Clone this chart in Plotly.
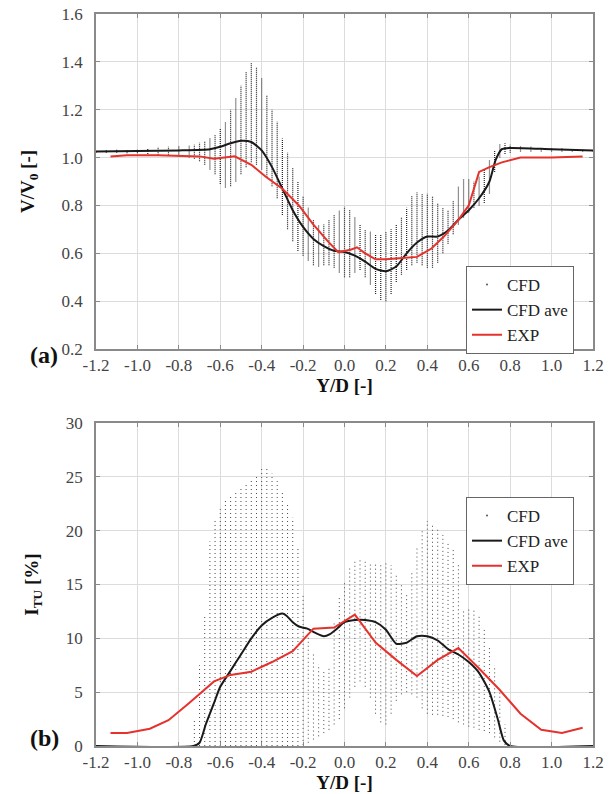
import plotly.graph_objects as go
from plotly.subplots import make_subplots

# ---------------- Panel (a): V/V0 ----------------
a_col_x = [-1.20, -1.15, -1.10, -1.05, -1.00, -0.95, -0.90, -0.85, -0.80, -0.75,
           -0.725, -0.700, -0.675, -0.650, -0.625, -0.600, -0.575, -0.550, -0.525, -0.500,
           -0.475, -0.450, -0.425, -0.400, -0.375, -0.350, -0.325, -0.300, -0.275, -0.250,
           -0.225, -0.200, -0.175, -0.150, -0.125, -0.100, -0.075, -0.050, -0.025, 0.000,
           0.025, 0.050, 0.075, 0.100, 0.125, 0.150, 0.175, 0.200, 0.225, 0.250,
           0.275, 0.300, 0.325, 0.350, 0.375, 0.400, 0.425, 0.450, 0.475, 0.500,
           0.525, 0.550, 0.575, 0.600, 0.625, 0.650, 0.675, 0.700, 0.725, 0.750,
           0.775, 0.800, 0.85, 0.90, 0.95, 1.00, 1.05, 1.10, 1.15, 1.20]
a_col_lo = [1.020, 1.020, 1.020, 1.018, 1.018, 1.015, 1.012, 1.010, 1.005, 1.000,
            0.995, 0.985, 0.970, 0.950, 0.930, 0.890, 0.875, 0.880, 0.900, 0.930,
            0.960, 0.980, 0.970, 0.950, 0.920, 0.880, 0.830, 0.760, 0.700, 0.650,
            0.610, 0.590, 0.570, 0.550, 0.545, 0.550, 0.550, 0.540, 0.520, 0.500,
            0.500, 0.520, 0.530, 0.500, 0.470, 0.430, 0.405, 0.400, 0.430, 0.480,
            0.510, 0.530, 0.550, 0.560, 0.550, 0.540, 0.540, 0.560, 0.600, 0.640,
            0.680, 0.720, 0.750, 0.770, 0.790, 0.800, 0.810, 0.850, 0.940, 1.000,
            1.015, 1.020, 1.025, 1.025, 1.025, 1.025, 1.025, 1.025, 1.025, 1.025]
a_col_hi = [1.030, 1.032, 1.033, 1.035, 1.036, 1.040, 1.042, 1.045, 1.048, 1.052,
            1.055, 1.062, 1.070, 1.080, 1.095, 1.120, 1.150, 1.200, 1.250, 1.300,
            1.360, 1.395, 1.380, 1.330, 1.260, 1.200, 1.150, 1.080, 1.020, 0.960,
            0.900, 0.840, 0.790, 0.740, 0.720, 0.720, 0.740, 0.760, 0.780, 0.795,
            0.780, 0.750, 0.720, 0.700, 0.690, 0.680, 0.680, 0.690, 0.700, 0.720,
            0.750, 0.790, 0.840, 0.855, 0.850, 0.850, 0.840, 0.810, 0.790, 0.780,
            0.820, 0.880, 0.910, 0.910, 0.900, 0.920, 0.950, 0.990, 1.030, 1.055,
            1.060, 1.055, 1.048, 1.045, 1.042, 1.040, 1.038, 1.036, 1.035, 1.033]

a_ave_x = [-1.20, -0.80, -0.65, -0.60, -0.55, -0.50, -0.45, -0.40, -0.35, -0.30,
           -0.25, -0.20, -0.15, -0.10, -0.05, 0.00, 0.05, 0.10, 0.15, 0.20,
           0.25, 0.30, 0.35, 0.40, 0.45, 0.50, 0.55, 0.60, 0.65, 0.70,
           0.73, 0.76, 0.80, 1.00, 1.20]
a_ave_y = [1.025, 1.030, 1.035, 1.045, 1.060, 1.070, 1.065, 1.030, 0.960, 0.870,
           0.780, 0.710, 0.660, 0.630, 0.610, 0.605, 0.590, 0.565, 0.535, 0.525,
           0.545, 0.600, 0.645, 0.670, 0.670, 0.695, 0.740, 0.780, 0.830, 0.900,
           0.990, 1.035, 1.040, 1.035, 1.030]

a_exp_x = [-1.13, -1.05, -0.90, -0.70, -0.63, -0.58, -0.53, -0.45, -0.38, -0.30,
           -0.22, -0.15, -0.08, -0.03, 0.00, 0.03, 0.06, 0.10, 0.15, 0.20,
           0.28, 0.35, 0.42, 0.48, 0.55, 0.60, 0.65, 0.70, 0.76, 0.85,
           1.00, 1.15]
a_exp_y = [1.005, 1.010, 1.010, 1.005, 0.995, 1.000, 1.005, 0.970, 0.920, 0.870,
           0.800, 0.720, 0.650, 0.605, 0.610, 0.615, 0.625, 0.600, 0.575, 0.575,
           0.580, 0.585, 0.620, 0.670, 0.740, 0.800, 0.940, 0.960, 0.980, 1.000,
           1.000, 1.005]

# ---------------- Panel (b): I_TU ----------------
b_col_x = [-0.725, -0.700, -0.675, -0.650, -0.625, -0.600, -0.575, -0.550, -0.525, -0.500,
           -0.475, -0.450, -0.425, -0.400, -0.375, -0.350, -0.325, -0.300, -0.275, -0.250,
           -0.225, -0.200, -0.175, -0.150, -0.125, -0.100, -0.075, -0.050, -0.025, 0.000,
           0.025, 0.050, 0.075, 0.100, 0.125, 0.150, 0.175, 0.200, 0.225, 0.250,
           0.275, 0.300, 0.325, 0.350, 0.375, 0.400, 0.425, 0.450, 0.475, 0.500,
           0.525, 0.550, 0.575, 0.600, 0.625, 0.650, 0.675, 0.700, 0.725, 0.750,
           0.775]
b_col_lo = [0.0, 0.0, 0.0, 0.0, 0.0, 0.0, 0.0, 0.0, 0.0, 0.0,
            0.0, 0.0, 0.0, 0.0, 0.0, 0.0, 0.0, 0.0, 0.0, 0.0,
            0.0, 0.1, 0.3, 0.6, 0.9, 1.2, 1.5, 2.0, 2.5, 3.5,
            4.5, 5.5, 6.0, 5.5, 4.5, 3.0, 2.2, 2.0, 3.0, 4.2,
            4.8, 5.0, 4.8, 4.5, 3.5, 3.0, 2.9, 2.9, 2.8, 2.7,
            2.5, 2.2, 2.0, 1.8, 1.7, 1.5, 1.4, 1.2, 0.8, 0.4,
            0.1]
b_col_hi = [2.5, 7.5, 12.0, 19.0, 21.0, 22.0, 22.8, 23.3, 23.7, 24.1,
            24.4, 24.7, 25.1, 25.8, 25.9, 25.3, 24.6, 23.7, 22.5, 21.2,
            18.5, 14.2, 10.5, 8.7, 7.6, 7.0, 7.2, 11.5, 13.8, 15.2,
            16.5, 17.2, 17.4, 17.3, 17.1, 16.9, 16.9, 17.0, 16.8, 16.0,
            15.0, 14.2, 16.2, 18.6, 20.2, 20.9, 20.6, 20.1, 19.6, 19.0,
            18.2, 17.0, 12.5, 12.7, 12.7, 12.0, 10.8, 9.3, 7.5, 5.0,
            2.0]

b_ave_x = [-1.20, -0.73, -0.70, -0.67, -0.63, -0.60, -0.55, -0.50, -0.45, -0.40,
           -0.35, -0.30, -0.28, -0.25, -0.22, -0.18, -0.14, -0.10, -0.07, -0.03,
           0.00, 0.05, 0.10, 0.15, 0.20, 0.25, 0.30, 0.35, 0.40, 0.45,
           0.50, 0.55, 0.60, 0.65, 0.70, 0.74, 0.77, 0.80, 1.20]
b_ave_y = [0.0, 0.0, 0.3, 2.0, 4.0, 5.5, 7.0, 8.5, 10.0, 11.2,
           11.9, 12.3, 12.1, 11.5, 11.1, 10.9, 10.5, 10.2, 10.4, 11.0,
           11.5, 11.7, 11.7, 11.5, 10.8, 9.5, 9.6, 10.2, 10.2, 9.8,
           9.0, 8.5, 7.8, 6.8, 5.0, 2.5, 0.5, 0.0, 0.0]

b_exp_x = [-1.13, -1.05, -0.94, -0.85, -0.75, -0.63, -0.55, -0.45, -0.35, -0.25,
           -0.15, -0.05, 0.05, 0.15, 0.25, 0.35, 0.45, 0.55, 0.65, 0.75,
           0.85, 0.95, 1.05, 1.15]
b_exp_y = [1.2, 1.2, 1.6, 2.4, 4.0, 6.0, 6.6, 6.9, 7.8, 8.8,
           10.9, 11.0, 12.2, 9.6, 8.0, 6.5, 8.0, 9.1, 7.2, 5.2,
           3.0, 1.5, 1.2, 1.7]

x_ticks = [-1.2, -1.0, -0.8, -0.6, -0.4, -0.2, 0.0, 0.2, 0.4, 0.6, 0.8, 1.0, 1.2]
x_ticktext = ["-1.2", "-1.0", "-0.8", "-0.6", "-0.4", "-0.2", "0.0", "0.2", "0.4", "0.6", "0.8", "1.0", "1.2"]
a_yticks = [0.2, 0.4, 0.6, 0.8, 1.0, 1.2, 1.4, 1.6]
a_yticktext = ["0.2", "0.4", "0.6", "0.8", "1.0", "1.2", "1.4", "1.6"]
b_yticks = [0, 5, 10, 15, 20, 25, 30]
b_yticktext = ["0", "5", "10", "15", "20", "25", "30"]


def segments(xs, lo, hi):
    sx, sy = [], []
    for x, l, h in zip(xs, lo, hi):
        sx += [x, x, None]
        sy += [l, h, None]
    return sx, sy


FONT = "Liberation Serif"
RED = "#e5322d"
BLACK = "#1a1a1a"

H = 794
top_px, bot_px = 14, 746
span = bot_px - top_px
left_px, right_px = 96, 593


def py(pix):
    return (bot_px - pix) / span


def px(pix):
    return (pix - left_px) / (right_px - left_px)


fig = make_subplots(rows=2, cols=1, vertical_spacing=0.0)
fig.update_layout(
    yaxis=dict(domain=[py(349), py(14)]),
    yaxis2=dict(domain=[py(746), py(423)]),
)

# Panel a traces
sx, sy = segments(a_col_x, a_col_lo, a_col_hi)
fig.add_trace(go.Scatter(x=sx, y=sy, mode="lines", line=dict(color="#222222", width=1.2, dash="1px,1px"),
                         showlegend=False, hoverinfo="skip"), row=1, col=1)
fig.add_trace(go.Scatter(x=[None], y=[None], mode="markers", name="CFD",
                         marker=dict(color="#555", size=2), legend="legend"), row=1, col=1)
fig.add_trace(go.Scatter(x=a_ave_x, y=a_ave_y, mode="lines", name="CFD ave",
                         line=dict(color=BLACK, width=2, shape="spline", smoothing=0.6), legend="legend"), row=1, col=1)
fig.add_trace(go.Scatter(x=a_exp_x, y=a_exp_y, mode="lines", name="EXP",
                         line=dict(color=RED, width=2), legend="legend"), row=1, col=1)

# Panel b traces
sx, sy = segments(b_col_x, b_col_lo, b_col_hi)
fig.add_trace(go.Scatter(x=sx, y=sy, mode="lines", line=dict(color="#4a4a4a", width=1, dash="1px,3px"),
                         showlegend=False, hoverinfo="skip"), row=2, col=1)
fig.add_trace(go.Scatter(x=[None], y=[None], mode="markers", name="CFD",
                         marker=dict(color="#555", size=2), legend="legend2"), row=2, col=1)
fig.add_trace(go.Scatter(x=b_ave_x, y=b_ave_y, mode="lines", name="CFD ave",
                         line=dict(color=BLACK, width=2, shape="spline", smoothing=0.6), legend="legend2"), row=2, col=1)
fig.add_trace(go.Scatter(x=b_exp_x, y=b_exp_y, mode="lines", name="EXP",
                         line=dict(color=RED, width=2), legend="legend2"), row=2, col=1)

axis_common = dict(
    automargin=False,
    showgrid=True, gridcolor="#dcdcdc", gridwidth=1,
    showline=True, linecolor="#8a8a8a", linewidth=1.5, mirror="ticks",
    ticks="inside", ticklen=4, tickcolor="#8a8a8a",
    zeroline=False,
    tickfont=dict(family=FONT, size=17, color="#444"),
)
title_font = dict(family=FONT, size=19, color="#111")

for r in (1, 2):
    fig.update_xaxes(axis_common, range=[-1.2, 1.2], tickvals=x_ticks, ticktext=x_ticktext,
                     title=dict(text="<b>Y/D [-]</b>", font=title_font, standoff=0), row=r, col=1)

fig.update_yaxes(axis_common, range=[0.2, 1.6], tickvals=a_yticks, ticktext=a_yticktext,
                 ticklabelstandoff=8,
                 title=dict(text="<b>V/V<sub>0</sub> [-]</b>", font=title_font, standoff=22), row=1, col=1)
fig.update_yaxes(axis_common, range=[0, 30], tickvals=b_yticks, ticktext=b_yticktext,
                 ticklabelstandoff=8,
                 title=dict(text="<b>I<sub>TU</sub> [%]</b>", font=title_font, standoff=22), row=2, col=1)

legend_common = dict(
    font=dict(family=FONT, size=17, color="#222"),
    bgcolor="white", bordercolor="#666", borderwidth=1,
    xanchor="left", yanchor="top", itemwidth=30, tracegroupgap=0,
)

fig.update_layout(
    width=616, height=H,
    font=dict(family=FONT),
    margin=dict(l=left_px, r=616 - right_px, t=top_px, b=H - bot_px, autoexpand=False),
    plot_bgcolor="white", paper_bgcolor="white",
    legend=dict(legend_common, x=px(466), y=py(266)),
    legend2=dict(legend_common, x=px(466), y=py(497)),
    annotations=[
        dict(text="<b>(a)</b>", x=px(28), y=py(355), xref="paper", yref="paper",
             showarrow=False, font=dict(family=FONT, size=24, color="#111")),
        dict(text="<b>(b)</b>", x=px(28), y=py(753), xref="paper", yref="paper",
             showarrow=False, font=dict(family=FONT, size=24, color="#111")),
    ],
)

fig.write_html("out.html", config={"displayModeBar": False},
               post_script="document.body.style.margin='0';")
